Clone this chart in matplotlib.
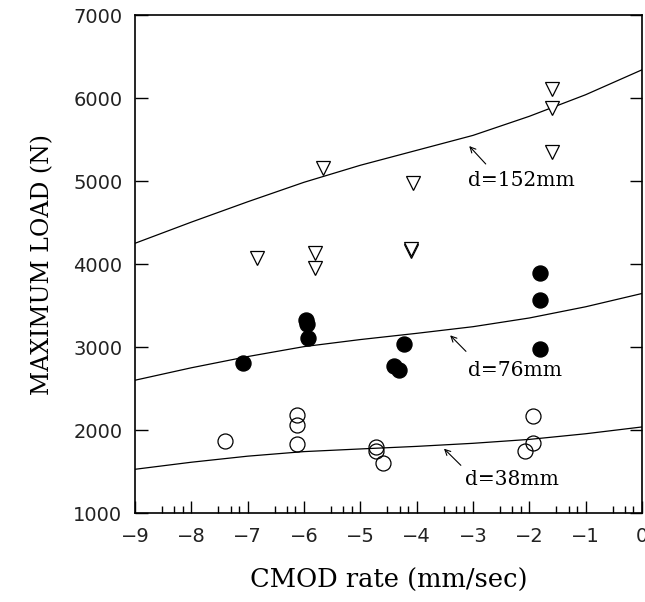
import numpy as np
import matplotlib.pyplot as plt

# Dades llegides del gràfic
# corbes ajustades (punts llegits a cada enter de l'eix x)
x_corba = [-9, -8, -7, -6, -5, -4, -3, -2, -1, 0]
y_152 = [4250, 4505, 4750, 4985, 5190, 5370, 5550, 5780, 6040, 6340]
y_76 = [2600, 2750, 2885, 3005, 3090, 3165, 3245, 3350, 3485, 3645]
y_38 = [1527, 1612, 1685, 1740, 1772, 1803, 1840, 1887, 1955, 2037]

# d=152mm (triangles)
x_tri = [-6.84, -5.67, -5.80, -5.80, -4.07, -4.10, -4.10, -1.60, -1.60, -1.60]
y_tri = [4068, 5153, 4128, 3948, 4980, 4160, 4180, 6104, 5876, 5353]

# d=76mm (cercles plens)
x_ple = [-7.09, -5.97, -5.95, -5.92, -4.23, -4.40, -4.32, -1.81, -1.81, -1.81]
y_ple = [2811, 3325, 3280, 3112, 3032, 2771, 2723, 3896, 3566, 2972]

# d=38mm (cercles buits)
x_buit = [-7.40, -6.12, -6.12, -6.12, -4.73, -4.73, -4.59, -2.08, -1.94, -1.94]
y_buit = [1871, 2181, 2060, 1827, 1799, 1751, 1599, 1747, 1840, 2173]

etiquetes = ['d=152mm', 'd=76mm', 'd=38mm']
# posicio del text i de la fletxa (cua, cap)
pos_text = [(-3.08, 5012), (-3.09, 2723), (-3.14, 1400)]
fletxa_cua = [(-2.74, 5181), (-3.09, 2924), (-3.18, 1551)]
fletxa_cap = [(-3.10, 5446), (-3.44, 3165), (-3.55, 1799)]

x_ticks = [-9, -8, -7, -6, -5, -4, -3, -2, -1, 0]
y_ticks = [1000, 2000, 3000, 4000, 5000, 6000, 7000]

fig = plt.figure(figsize=(6.45, 6.02), dpi=100)
ax = fig.add_axes([0.2093, 0.1478, 0.786, 0.8272])

ax.plot(x_corba, y_152, color='black', lw=0.9)
ax.plot(x_corba, y_76, color='black', lw=0.9)
ax.plot(x_corba, y_38, color='black', lw=0.9)

ax.plot(x_tri, y_tri, 'v', ms=9.5, mfc='white', mec='black', mew=0.9, ls='none')
ax.plot(x_ple, y_ple, 'o', ms=10.8, mfc='black', mec='black', ls='none')
ax.plot(x_buit, y_buit, 'o', ms=10.8, mfc='none', mec='black', mew=0.9, ls='none')

for txt, pt, cua, cap in zip(etiquetes, pos_text, fletxa_cua, fletxa_cap):
    ax.text(pt[0], pt[1], txt, family='DejaVu Serif', fontsize=14.5, va='center', ha='left')
    ax.annotate('', xy=cap, xytext=cua,
                arrowprops=dict(arrowstyle='->', color='black', lw=0.8, mutation_scale=10))

ax.set_xlim(-9, 0)
ax.set_ylim(1000, 7000)
ax.set_xticks(x_ticks)
ax.set_yticks(y_ticks)
# ticks menors logaritmics a l'eix x
minors = [k + np.log10(m) for k in range(-9, 0) for m in (3, 5, 7)]
ax.set_xticks(minors, minor=True)

ax.tick_params(axis='x', which='major', direction='in', length=9, width=1, pad=10,
               labelsize=14, labelcolor='#222222', top=False)
ax.tick_params(axis='x', which='minor', direction='in', length=5, width=1, top=False)
ax.tick_params(axis='y', which='major', direction='in', length=9, width=1, pad=9,
               labelsize=14, labelcolor='#222222', right=True)

for s in ax.spines.values():
    s.set_linewidth(1.2)

ax.set_xlabel('CMOD rate (mm/sec)', family='DejaVu Serif', fontsize=18.5, labelpad=16)
ax.set_ylabel('MAXIMUM LOAD (N)', family='DejaVu Serif', fontsize=17, labelpad=14)

plt.savefig('out.png', dpi=100)
